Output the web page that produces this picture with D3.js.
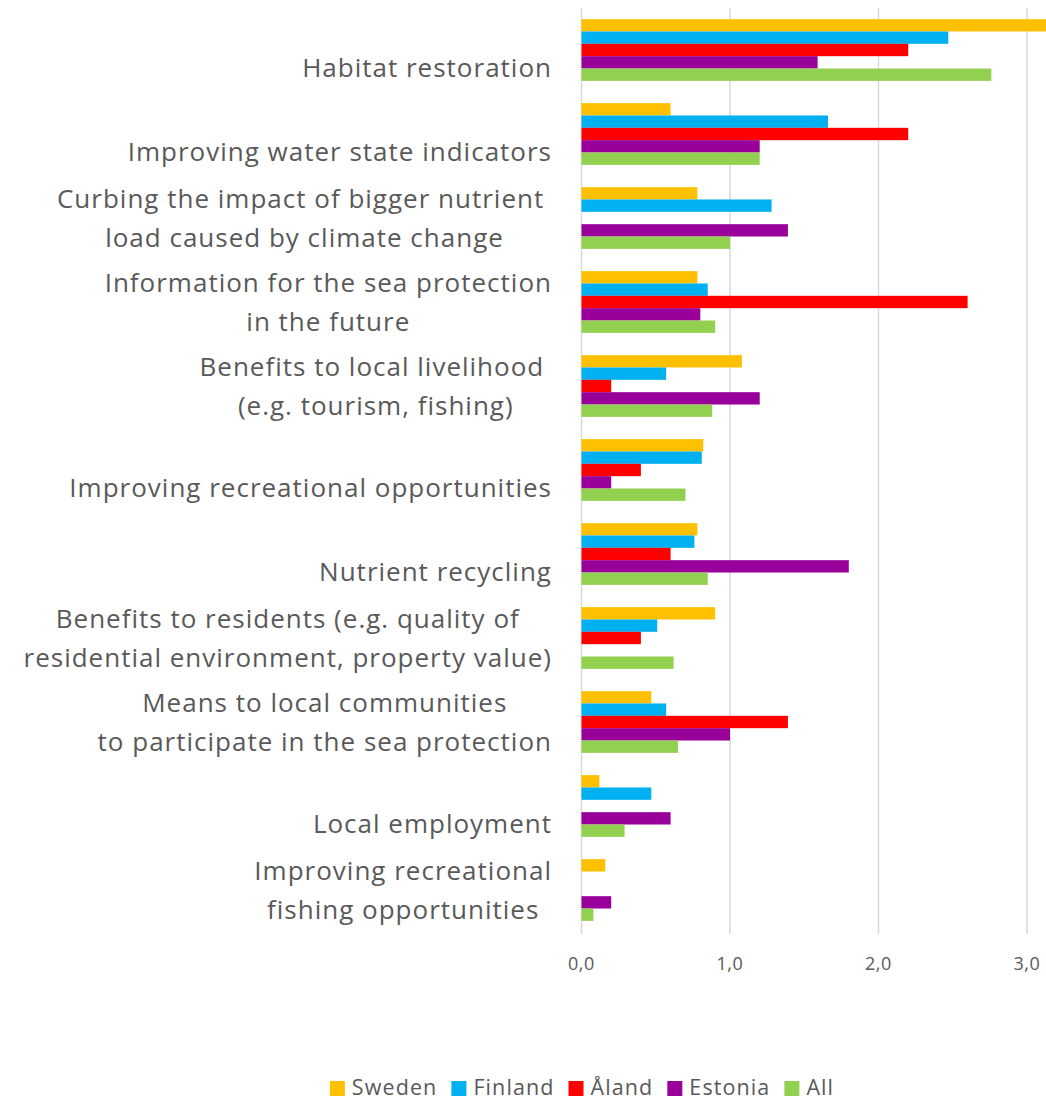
<!DOCTYPE html>
<html>
<head>
<meta charset="utf-8">
<script src="https://cdn.jsdelivr.net/npm/d3@7"></script>
<style>
  html, body { margin: 0; padding: 0; background: #fff; }
  svg { display: block; }
  text { font-family: "Open Sans", "Noto Sans", sans-serif; fill: #595959; }
</style>
</head>
<body>
<svg id="chart" width="1046" height="1102"></svg>
<script>
// Category labels, each split into its wrapped lines (single-line labels sit on the lower line)
const categories = [
  "Habitat restoration",
  "Improving water state indicators",
  "Curbing the impact of bigger nutrient load caused by climate change",
  "Information for the sea protection in the future",
  "Benefits to local livelihood (e.g. tourism, fishing)",
  "Improving recreational opportunities",
  "Nutrient recycling",
  "Benefits to residents (e.g. quality of residential environment, property value)",
  "Means to local communities to participate in the sea protection",
  "Local employment",
  "Improving recreational fishing opportunities"
];
const labelLines = [
  ["", "Habitat restoration"],
  ["", "Improving water state indicators"],
  ["Curbing the impact of bigger nutrient ", "load caused by climate change"],
  ["Information for the sea protection", "in the future"],
  ["Benefits to local livelihood ", "(e.g. tourism, fishing)"],
  ["", "Improving recreational opportunities"],
  ["", "Nutrient recycling"],
  ["Benefits to residents (e.g. quality of", "residential environment, property value)"],
  ["Means to local communities", "to participate in the sea protection"],
  ["", "Local employment"],
  ["Improving recreational", "fishing opportunities"]
];

const seriesNames = ["Sweden", "Finland", "Åland", "Estonia", "All"];
const seriesColors = ["#FFC000", "#00B0F0", "#FF0000", "#990099", "#92D050"];

// Values per series, in category order (null = no answer)
const sweden  = [3.2, 0.6, 0.78, 0.78, 1.08, 0.82, 0.78, 0.9, 0.47, 0.12, 0.16];
const finland = [2.47, 1.66, 1.28, 0.85, 0.57, 0.81, 0.76, 0.51, 0.57, 0.47, null];
const aland   = [2.2, 2.2, null, 2.6, 0.2, 0.4, 0.6, 0.4, 1.39, null, null];
const estonia = [1.59, 1.2, 1.39, 0.8, 1.2, 0.2, 1.8, null, 1.0, 0.6, 0.2];
const all     = [2.76, 1.2, 1.0, 0.9, 0.88, 0.7, 0.85, 0.62, 0.65, 0.29, 0.08];
const seriesValues = [sweden, finland, aland, estonia, all];

const xTicks = [0, 1, 2, 3];
const tickFormat = v => v.toFixed(1).replace(".", ",");

const svg = d3.select("#chart");
const W = 1046;

const plotTop = 8, plotBottom = 932;
const x = d3.scaleLinear().domain([0, 3]).range([581.5, 1027]);
const y = d3.scaleBand().domain(d3.range(categories.length))
  .range([plotTop, plotBottom]).paddingInner(0.265).paddingOuter(0.1325);
const ySub = d3.scaleBand().domain(d3.range(seriesNames.length)).range([0, y.bandwidth()]);

// Vertical gridlines
svg.append("g").selectAll("line").data(xTicks).join("line")
  .attr("x1", d => x(d)).attr("x2", d => x(d))
  .attr("y1", plotTop).attr("y2", plotBottom + 2)
  .attr("stroke", "#d9d9d9").attr("stroke-width", 1.5);

// Bars (the plot area ends at the right edge, so the longest bar is cut there)
svg.append("defs").append("clipPath").attr("id", "plotClip")
  .append("rect").attr("x", 0).attr("y", 0).attr("width", W).attr("height", 1102);

const groups = svg.append("g").attr("clip-path", "url(#plotClip)")
  .selectAll("g").data(categories).join("g")
  .attr("transform", (d, i) => `translate(0,${y(i)})`);

groups.selectAll("rect")
  .data((d, i) => seriesValues.map((vals, s) => ({ s, v: vals[i] })).filter(e => e.v != null))
  .join("rect")
  .attr("x", x(0))
  .attr("y", e => ySub(e.s))
  .attr("width", e => x(e.v) - x(0))
  .attr("height", ySub.bandwidth())
  .attr("fill", e => seriesColors[e.s]);

// Category labels: lines centred on each other, block right-aligned
const labelRight = 552;
const lineGap = 39;
const labelG = svg.append("g").attr("font-size", 26).attr("letter-spacing", "1px");
labelLines.forEach((lines, i) => {
  const cy = y(i) + y.bandwidth() / 2;
  const g = labelG.append("g");
  const texts = lines.map((ln, k) => g.append("text")
    .attr("xml:space", "preserve")
    .attr("text-anchor", "middle")
    .attr("y", cy + (k === 0 ? -lineGap / 2 : lineGap / 2 - (lines[0] === "" ? 1.5 : 0)))
    .attr("dy", "0.35em")
    .text(ln));
  const maxW = d3.max(texts, t => t.node().getComputedTextLength());
  texts.forEach(t => t.attr("x", labelRight - maxW / 2));
});

// Axis tick labels
svg.append("g").selectAll("text").data(xTicks).join("text")
  .attr("x", d => x(d)).attr("y", 964).attr("dy", "0.35em")
  .attr("text-anchor", "middle").attr("font-size", 18).attr("letter-spacing", "0.6px")
  .text(tickFormat);

// Legend
const legend = svg.append("g").attr("font-size", 21.5).attr("letter-spacing", "1.1px");
const items = seriesNames.map((name, s) => {
  const g = legend.append("g");
  g.append("rect").attr("width", 15).attr("height", 15).attr("y", -6).attr("fill", seriesColors[s]);
  const t = g.append("text").attr("x", 22).attr("dy", "0.35em").text(name);
  return { g, w: 22 + t.node().getComputedTextLength() };
});
const gap = 14;
const totalW = d3.sum(items, d => d.w) + gap * (items.length - 1);
let lx = 582 - totalW / 2;
items.forEach(it => {
  it.g.attr("transform", `translate(${lx},1087)`);
  lx += it.w + gap;
});
</script>
</body>
</html>
